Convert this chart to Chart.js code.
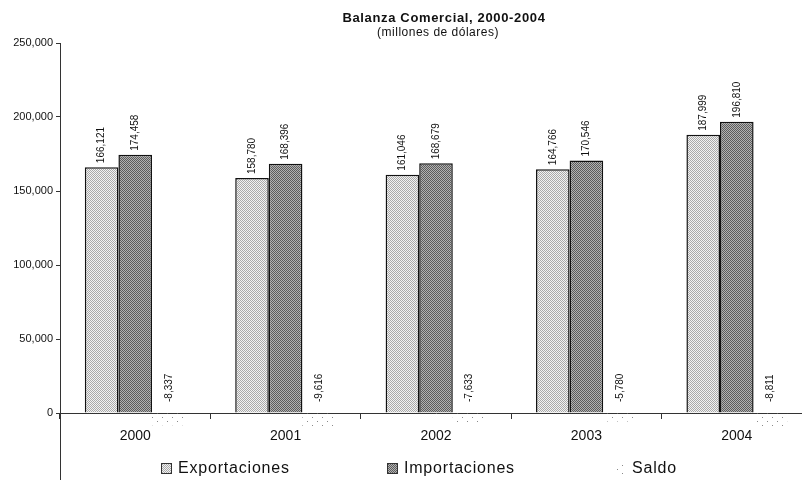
<!DOCTYPE html>
<html>
<head>
<meta charset="utf-8">
<script src="https://cdn.jsdelivr.net/npm/chart.js@4.4.1/dist/chart.umd.min.js"></script>
<style>
html, body { margin: 0; padding: 0; background: #fff; overflow: hidden; width: 802px; height: 480px; }
canvas { display: block; }
</style>
</head>
<body>
<canvas id="balanza" width="820" height="500"></canvas>
<script>
var years = ["2000", "2001", "2002", "2003", "2004"];
var exportaciones = [166121, 158780, 161046, 164766, 187999];
var importaciones = [174458, 168396, 168679, 170546, 196810];
var saldo = [-8337, -9616, -7633, -5780, -8811];
var yTicks = [0, 50000, 100000, 150000, 200000, 250000];

var FONT = "'Liberation Sans', Arial, sans-serif";

function makePattern(w, h, bg, color, dots) {
	var c = document.createElement('canvas');
	c.width = w; c.height = h;
	var g = c.getContext('2d');
	if (bg) { g.fillStyle = bg; g.fillRect(0, 0, w, h); }
	g.fillStyle = color;
	dots.forEach(function (d) { g.fillRect(d[0], d[1], 1, 1); });
	return g.createPattern(c, 'repeat');
}

var expPattern = makePattern(2, 2, '#f2f2f2', '#a9a9a9', [[0, 0], [1, 1]]);
var impPattern = makePattern(2, 2, '#b2b2b2', '#5c5c5c', [[0, 0], [1, 1]]);
var saldoPattern = makePattern(10, 8, null, '#8a8a8a', [[2, 1], [7, 5]]);

function fmt(v) { return v.toLocaleString('en-US'); }

// value labels, title and legend
var decorations = {
	id: 'decorations',
	afterDatasetsDraw: function (chart) {
		var ctx = chart.ctx, y0 = chart.scales.y.getPixelForValue(0);
		ctx.save();
		ctx.font = '10px ' + FONT;
		ctx.fillStyle = '#111';
		ctx.textAlign = 'left';
		ctx.textBaseline = 'middle';
		chart.data.datasets.forEach(function (ds, di) {
			var meta = chart.getDatasetMeta(di);
			meta.data.forEach(function (bar, i) {
				var v = ds.data[i];
				var y = v >= 0 ? bar.y - 4 : y0 - 11;
				ctx.save();
				ctx.translate(bar.x, y);
				ctx.rotate(-Math.PI / 2);
				ctx.fillText(fmt(v), 0, 0);
				ctx.restore();
			});
		});
		ctx.restore();
	},
	afterDraw: function (chart) {
		var ctx = chart.ctx;
		ctx.save();
		ctx.fillStyle = '#111';
		ctx.textAlign = 'center';
		ctx.textBaseline = 'middle';
		ctx.letterSpacing = '0.65px';
		ctx.font = 'bold 13px ' + FONT;
		ctx.fillText('Balanza Comercial, 2000-2004', 444, 18);
		ctx.letterSpacing = '0.5px';
		ctx.font = '12px ' + FONT;
		ctx.fillText('(millones de dólares)', 438, 33);

		// legend
		var items = [
			{ ds: 0, box: 161, text: 178 },
			{ ds: 1, box: 387, text: 404 },
			{ ds: 2, box: 616, text: 632 }
		];
		ctx.textAlign = 'left';
		ctx.letterSpacing = '0.8px';
		ctx.font = '16px ' + FONT;
		items.forEach(function (it) {
			var ds = chart.data.datasets[it.ds];
			ctx.fillStyle = ds.backgroundColor;
			ctx.fillRect(it.box, 463, 11, 11);
			if (ds.borderWidth) {
				ctx.strokeStyle = '#333';
				ctx.lineWidth = 1;
				ctx.strokeRect(it.box + 0.5, 463.5, 10, 10);
			}
			ctx.fillStyle = '#111';
			ctx.fillText(ds.label, it.text, 469);
		});
		ctx.restore();
	}
};

var ctx = document.getElementById('balanza');
var chart = new Chart(ctx, {
	type: 'bar',
	data: {
		labels: years,
		datasets: [
			{ label: 'Exportaciones', data: exportaciones, backgroundColor: expPattern, borderColor: '#111', borderWidth: 1.5 },
			{ label: 'Importaciones', data: importaciones, backgroundColor: impPattern, borderColor: '#111', borderWidth: 1.5 },
			{ label: 'Saldo', data: saldo, backgroundColor: saldoPattern, borderWidth: 0 }
		]
	},
	options: {
		responsive: false,
		animation: false,
		datasets: { bar: { categoryPercentage: 0.67, barPercentage: 1.0 } },
		layout: { padding: { left: 0, right: 8, top: 43, bottom: 13 } },
		plugins: {
			legend: { display: false },
			title: { display: false },
			tooltip: { enabled: false }
		},
		scales: {
			x: {
				position: { y: 0 },
				grid: { drawOnChartArea: false, tickLength: 5, color: '#333', offset: true },
				border: { color: '#333', width: 1 },
				ticks: { font: { family: FONT, size: 14 }, color: '#111', padding: 10, maxRotation: 0 }
			},
			y: {
				min: -50000,
				max: 250000,
				afterFit: function (s) { s.width = 60; },
				grid: { drawOnChartArea: false, tickLength: 4, color: '#333' },
				border: { color: '#333', width: 1 },
				ticks: {
					stepSize: 50000,
					padding: 3,
					color: '#111',
					font: { family: FONT, size: 11 },
					callback: function (v) { return yTicks.indexOf(v) >= 0 ? fmt(v) : ''; }
				}
			}
		}
	},
	plugins: [decorations]
});
</script>
</body>
</html>
